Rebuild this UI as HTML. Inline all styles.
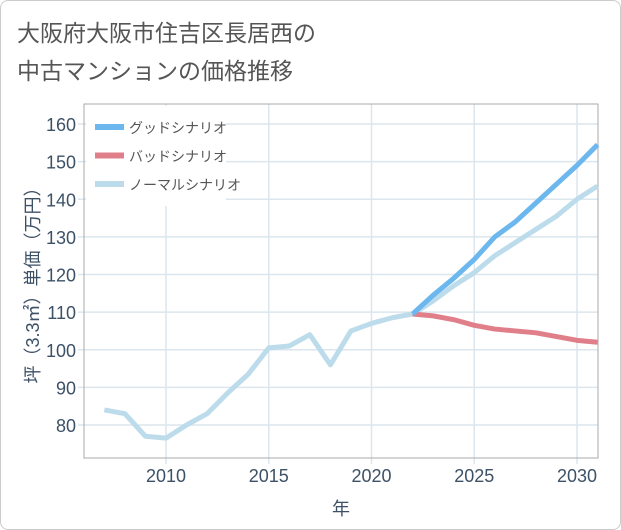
<!DOCTYPE html>
<html><head><meta charset="utf-8"><style>
body{margin:0;background:#fff;font-family:"Liberation Sans","Noto Sans CJK JP",sans-serif;}
#wrap{position:relative;width:619px;height:528px;border:1px solid #ccc;border-radius:8px;overflow:hidden;}
</style></head><body>
<div id="wrap">
<svg id="c" width="619" height="528"></svg>
</div>
<script>
const years=[2007,2008,2009,2010,2011,2012,2013,2014,2015,2016,2017,2018,2019,2020,2021,2022,2023,2024,2025,2026,2027,2028,2029,2030,2031];
const normal=[84,83,77,76.5,80,83,88.5,93.5,100.5,101,104,96,105,107,108.5,109.5,113,117,120.5,125,128.5,132,135.5,140,143.5];
const goodYears=[2022,2023,2024,2025,2026,2027,2028,2029,2030,2031];
const good=[109.5,114.5,119,124,130,134,139,144,149,154.5];
const bad=[109.5,109,108,106.5,105.5,105,104.5,103.5,102.5,102];
const yTicks=[80,90,100,110,120,130,140,150,160];
const xTicks=[2010,2015,2020,2025,2030];
const NS='http://www.w3.org/2000/svg';
const svg=document.getElementById('c');
const L=83,R=597,T=103,B=457;
const x=v=>165+(v-2010)*20.55;
const y=v=>424-(v-80)*3.7625;
function mk(t,a,p){const e=document.createElementNS(NS,t);for(const k in a)e.setAttribute(k,a[k]);(p||svg).appendChild(e);return e;}
function txt(s,a){const e=mk('text',a);e.textContent=s;return e;}
let t=txt('大阪府大阪市住吉区長居西の',{x:16,y:40,'font-size':23,fill:'#555'});

t=txt('中古マンションの価格推移',{x:16,y:78,'font-size':23,fill:'#555'});

const grid=mk('g',{});
yTicks.forEach(v=>{mk('line',{x1:L-6,x2:R,y1:y(v),y2:y(v),stroke:'#dbe6ee','stroke-width':1.5},grid);
 const l=txt(v,{x:L-8,y:y(v)+7,'font-size':18,fill:'#3d5166','text-anchor':'end'});
 });
xTicks.forEach(v=>{mk('line',{x1:x(v),x2:x(v),y1:T,y2:B+6,stroke:'#dbe6ee','stroke-width':1.5},grid);
 const l=txt(v,{x:x(v),y:B+24,'font-size':18,fill:'#3d5166','text-anchor':'middle'});
 });
const ax=mk('rect',{x:L,y:T,width:R-L,height:B-T,fill:'none',stroke:'#aaa','stroke-width':1});

const yt=txt('坪（3.3㎡）単価（万円）',{x:0,y:0,'font-size':18,fill:'#3d5166','text-anchor':'middle',transform:'translate(38,'+((T+B)/2)+') rotate(-90)'});

const xt=txt('年',{x:(L+R)/2,y:514,'font-size':18,fill:'#3d5166','text-anchor':'middle'});

function line(xs,vs,col,name){const d=vs.map((v,i)=>(i?'L':'M')+x(xs[i])+','+y(v)).join('');
 const p=mk('path',{d:d,fill:'none',stroke:col,'stroke-width':5,'stroke-linejoin':'round'});
 }
line(years,normal,'#bcdcec','normal-line');
line(goodYears,bad,'#e07f8a','bad-line');
line(goodYears,good,'#6cb8ee','good-line');
mk('rect',{x:L+2,y:T+2,width:140,height:100,fill:'#fff'});
[['グッドシナリオ','#6cb8ee'],['バッドシナリオ','#e07f8a'],['ノーマルシナリオ','#bcdcec']].forEach((e,i)=>{
 const g=mk('g',{});
 const yy=126+i*28.5;
 mk('line',{x1:94,x2:123,y1:yy,y2:yy,stroke:e[1],'stroke-width':6},g);
 const tt=txt(e[0],{x:128,y:yy+6,'font-size':14,fill:'#555'});g.appendChild(tt);});
</script>
</body></html>
